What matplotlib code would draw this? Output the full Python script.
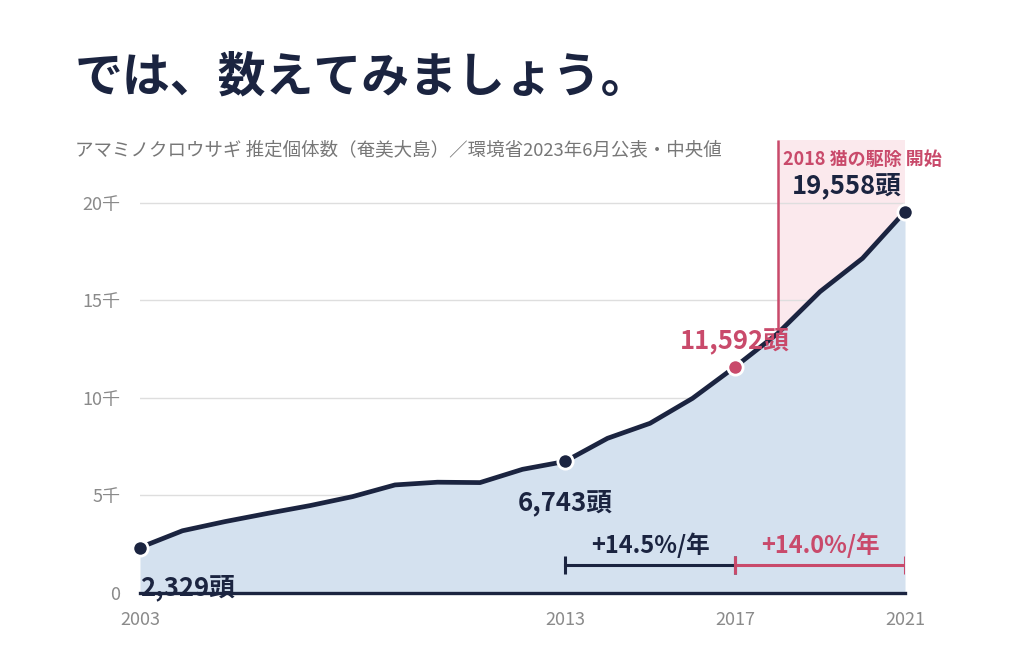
import matplotlib
matplotlib.use("Agg")
import matplotlib.pyplot as plt

plt.rcParams["font.family"] = ["Noto Sans CJK JP", "DejaVu Sans"]

years = [2003, 2004, 2005, 2006, 2007, 2008, 2009, 2010, 2011, 2012,
         2013, 2014, 2015, 2016, 2017, 2018, 2019, 2020, 2021]
rabbits = [2329, 3190, 3660, 4080, 4480, 4940, 5540, 5680, 5660, 6340,
           6743, 7930, 8700, 9980, 11592, 13300, 15450, 17160, 19558]

key_years = [2003, 2013, 2017, 2021]
key_labels = ["2,329頭", "6,743頭", "11,592頭", "19,558頭"]
y_ticks = [0, 5000, 10000, 15000, 20000]
y_tick_labels = ["0", "5千", "10千", "15千", "20千"]
rate_spans = [(2013, 2017, "+14.5%/年"), (2017, 2021, "+14.0%/年")]
cull_year = 2018

navy = "#1b2440"
red = "#c94a6b"
gray = "#8a8a8a"

fig = plt.figure(figsize=(10.24, 6.71), dpi=100)
ax = fig.add_axes([0.1367, 0.1163, 0.7471, 0.6751])
y_top = 23230

# shaded period after cat removal started
ax.axvspan(cull_year, 2021, color="#fbe9ed", zorder=0, lw=0)
for t in y_ticks[1:]:
    ax.axhline(t, color="#dedede", lw=1, zorder=1)

ax.fill_between(years, rabbits, 0, color="#d4e1ef", zorder=2, lw=0)
ax.plot(years, rabbits, color=navy, lw=3.4, zorder=4, solid_capstyle="round")
ax.axhline(0, color=navy, lw=2.4, zorder=5, clip_on=False)

v2018 = rabbits[years.index(cull_year)]
ax.vlines(cull_year, v2018, y_top, color=red, lw=1.8, zorder=3)
ax.text(cull_year + 0.14, 22250, "2018 猫の駆除 開始", color=red, fontsize=13,
        fontweight="bold", va="center", ha="left")

for yr, lab in zip(key_years, key_labels):
    v = rabbits[years.index(yr)]
    c = red if yr == 2017 else navy
    ax.plot(yr, v, "o", ms=11, color=c, mec="white", mew=2, zorder=6, clip_on=False)

ax.text(2003, 280, key_labels[0], color=navy, fontsize=18.5, fontweight="bold",
        ha="left", va="center", zorder=7)
ax.text(2013, 4600, key_labels[1], color=navy, fontsize=18.5, fontweight="bold",
        ha="center", va="center", zorder=7)
ax.text(2017, 12950, key_labels[2], color=red, fontsize=18.5, fontweight="bold",
        ha="center", va="center", zorder=7)
ax.text(2019.62, 20900, key_labels[3], color=navy, fontsize=18.5, fontweight="bold",
        ha="center", va="center", zorder=7)

for (x0, x1, lab), c in zip(rate_spans, [navy, red]):
    yb = 1440
    ax.plot([x0, x1], [yb, yb], color=c, lw=2.2, zorder=6)
    ax.vlines([x0, x1], yb - 480, yb + 480, color=c, lw=2.2, zorder=6)
    ax.text((x0 + x1) / 2, 2450, lab, color=c, fontsize=17, fontweight="bold",
            ha="center", va="center", zorder=7)

ax.set_xlim(2003, 2021)
ax.set_ylim(0, y_top)
ax.set_yticks(y_ticks)
ax.set_yticklabels(y_tick_labels)
ax.set_xticks(key_years)
ax.set_xticklabels([str(y) for y in key_years])
ax.tick_params(axis="both", length=0, labelsize=13, labelcolor=gray)
ax.tick_params(axis="y", pad=14)
ax.tick_params(axis="x", pad=13)
for s in ax.spines.values():
    s.set_visible(False)

fig.text(0.073, 0.885, "では、数えてみましょう。", fontsize=34.5, fontweight="bold",
         color=navy, va="center", ha="left")
fig.text(0.073, 0.776, "アマミノクロウサギ 推定個体数（奄美大島）／環境省2023年6月公表・中央値",
         fontsize=13.3, color="#777777", va="center", ha="left")

fig.savefig("out.png", dpi=100, facecolor="white")
